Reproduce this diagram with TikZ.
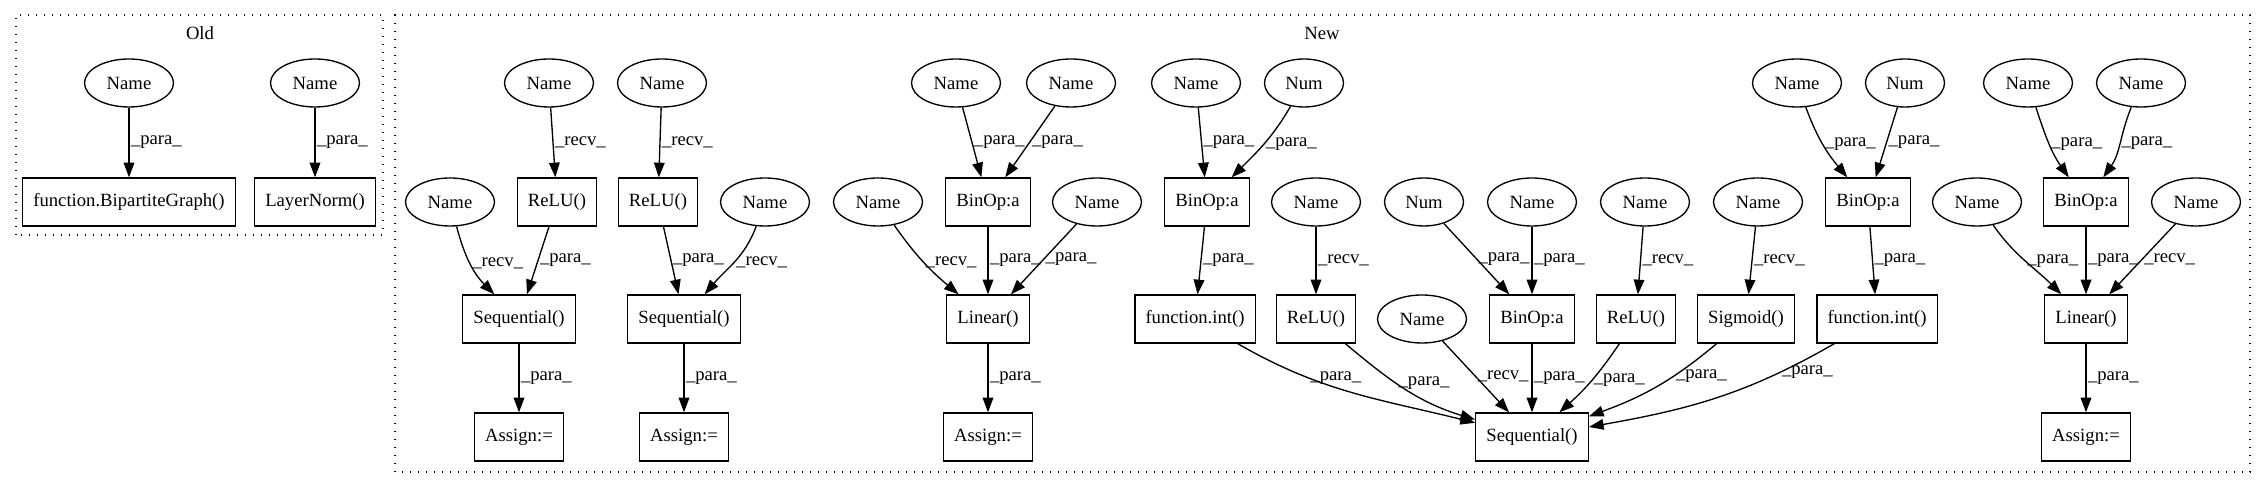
\documentclass[tikz,border=0pt]{standalone}
\usepackage{fontspec}
\setmainfont{Liberation Serif}
\usetikzlibrary{arrows.meta,shapes.geometric}

\begin{document}
\begin{tikzpicture}[
  x=0.75pt, y=0.75pt,
  every node/.style={font=\fontsize{14pt}{16pt}\selectfont},
  ast/.style={
    draw,
    line width=1pt,
    ellipse,
    inner sep=0pt,
    minimum width=66.75pt,
    minimum height=36pt
  },
  num/.style={ast, minimum width=59.25pt},
  call/.style={
    draw,
    line width=1pt,
    rectangle,
    inner xsep=8pt,
    inner ysep=0pt,
    minimum width=54pt,
    minimum height=36pt
  },
  flow/.style={-{Triangle[length=11pt,width=8pt]}, line width=1pt},
  role/.style={anchor=west, inner sep=1pt},
  cluster/.style={draw, line width=1pt, dash pattern=on 1pt off 5pt}
]
\useasboundingbox (0,0) rectangle (2267,488);

\draw[cluster] (16,253) rectangle (383,473);
\node (oldtitle) at (200,455) {Old};
\draw[cluster] (395,16) rectangle (2250,473);
\node (newtitle) at (1322,455) {New};

\node[ast] (oldname1) at (129,405) {Name};
\node[call] (bipartite) at (129,286) {function.BipartiteGraph()};
\node[ast] (oldname2) at (315,405) {Name};
\node[call] (layernorm) at (315,286) {LayerNorm()};

\draw[flow] (oldname1) -- node[role] {\_para\_} (bipartite);
\draw[flow] (oldname2) -- node[role] {\_para\_} (layernorm);

\node[ast] (name1) at (549,405) {Name};
\node[call] (relu1) at (557,286) {ReLU()};
\node[ast] (name3) at (450,286) {Name};
\node[call] (seq1) at (519,169) {Sequential()};
\node[call] (assign1) at (519,51) {Assign:=};

\draw[flow] (name1) -- node[role] {\_recv\_} (relu1);
\draw[flow] (name3) to[out=-75, in=135] node[role] {\_recv\_} (seq1);
\draw[flow] (relu1) -- node[role] {\_para\_} (seq1);
\draw[flow] (seq1) -- node[role] {\_para\_} (assign1);

\node[ast] (name2) at (662,405) {Name};
\node[call] (relu2) at (658,286) {ReLU()};
\node[ast] (name4) at (765,286) {Name};
\node[call] (seq2) at (684,169) {Sequential()};
\node[call] (assign2) at (684,51) {Assign:=};

\draw[flow] (name2) -- node[role] {\_recv\_} (relu2);
\draw[flow] (relu2) -- node[role] {\_para\_} (seq2);
\draw[flow] (name4) to[out=-110, in=50] node[role] {\_recv\_} (seq2);
\draw[flow] (seq2) -- node[role] {\_para\_} (assign2);

\node[ast] (name5) at (956,405) {Name};
\node[ast] (name6) at (1071,405) {Name};
\node[call] (binop1) at (988,286) {BinOp:a};
\node[ast] (name7) at (878,286) {Name};
\node[ast] (name8) at (1097,286) {Name};
\node[call] (linear1) at (988,169) {Linear()};
\node[call] (assign3) at (988,51) {Assign:=};

\draw[flow] (name5) -- node[role] {\_para\_} (binop1);
\draw[flow] (name6) -- node[role] {\_para\_} (binop1);
\draw[flow] (name7) to[out=-55, in=140] node[role] {\_recv\_} (linear1);
\draw[flow] (binop1) -- node[role] {\_para\_} (linear1);
\draw[flow] (name8) -- node[role] {\_para\_} (linear1);
\draw[flow] (linear1) -- node[role] {\_para\_} (assign3);

\node[ast] (name9) at (1196,405) {Name};
\node[num] (num1) at (1304,405) {Num};
\node[call] (binop2) at (1207,286) {BinOp:a};
\node[call] (int1) at (1195,169) {function.int()};
\node[ast] (name10) at (1316,286) {Name};
\node[call] (relu3) at (1316,169) {ReLU()};
\node[num] (num2) at (1424,286) {Num};
\node[ast] (name11) at (1532,286) {Name};
\node[call] (binop3) at (1532,169) {BinOp:a};
\node[ast] (name15) at (1422,169) {Name};
\node[ast] (name12) at (1645,286) {Name};
\node[call] (relu4) at (1636,169) {ReLU()};
\node[ast] (name13) at (1758,286) {Name};
\node[call] (sigmoid) at (1746,169) {Sigmoid()};
\node[ast] (name14) at (1797,405) {Name};
\node[num] (num3) at (1905,405) {Num};
\node[call] (binop4) at (1868,286) {BinOp:a};
\node[call] (int2) at (1877,169) {function.int()};
\node[call] (seq3) at (1532,51) {Sequential()};

\draw[flow] (name9) -- node[role] {\_para\_} (binop2);
\draw[flow] (num1) to[out=-120, in=45] node[role] {\_para\_} (binop2);
\draw[flow] (binop2) -- node[role] {\_para\_} (int1);
\draw[flow] (name10) -- node[role] {\_recv\_} (relu3);
\draw[flow] (num2) -- node[role] {\_para\_} (binop3);
\draw[flow] (name11) -- node[role] {\_para\_} (binop3);
\draw[flow] (name12) -- node[role] {\_recv\_} (relu4);
\draw[flow] (name13) -- node[role] {\_recv\_} (sigmoid);
\draw[flow] (name14) to[out=-70, in=130] node[role] {\_para\_} (binop4);
\draw[flow] (num3) -- node[role] {\_para\_} (binop4);
\draw[flow] (binop4) -- node[role] {\_para\_} (int2);

\draw[flow] (int1) to[out=-30, in=166] node[role, pos=0.3] {\_para\_} (seq3);
\draw[flow] (relu3) to[out=-40, in=163] node[role, pos=0.42] {\_para\_} (seq3);
\draw[flow] (name15) -- node[role] {\_recv\_} (seq3);
\draw[flow] (binop3) -- node[role] {\_para\_} (seq3);
\draw[flow] (relu4) to[out=-124, in=42] node[role] {\_para\_} (seq3);
\draw[flow] (sigmoid) to[out=-140, in=20] node[role, pos=0.35] {\_para\_} (seq3);
\draw[flow] (int2) to[out=-150, in=10] node[role, pos=0.22] {\_para\_} (seq3);

\node[ast] (name16) at (2028,405) {Name};
\node[ast] (name17) at (2141,405) {Name};
\node[call] (binop5) at (2086,286) {BinOp:a};
\node[ast] (name18) at (1977,286) {Name};
\node[ast] (name19) at (2196,286) {Name};
\node[call] (linear2) at (2086,169) {Linear()};
\node[call] (assign4) at (2086,51) {Assign:=};

\draw[flow] (name16) to[out=-72, in=125] node[role] {\_para\_} (binop5);
\draw[flow] (name17) to[out=-112, in=55] node[role] {\_para\_} (binop5);
\draw[flow] (name18) to[out=-55, in=135] node[role] {\_para\_} (linear2);
\draw[flow] (binop5) -- node[role] {\_para\_} (linear2);
\draw[flow] (name19) -- node[role] {\_recv\_} (linear2);
\draw[flow] (linear2) -- node[role] {\_para\_} (assign4);

\end{tikzpicture}
\end{document}
